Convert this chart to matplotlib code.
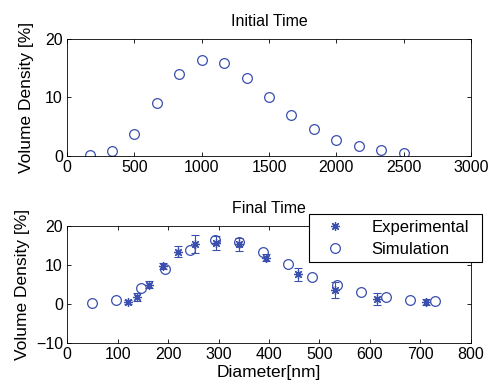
import matplotlib
matplotlib.use('Agg')
from matplotlib import pyplot as plt

plt.rcParams['font.family'] = ['Liberation Sans', 'DejaVu Sans']

BLUE = '#3a4fae'

# Initial time (simulation only)
init_d = [167, 333, 500, 667, 833, 1000, 1167, 1333, 1500, 1667, 1833, 2000, 2167, 2333, 2500]
init_v = [0.23, 0.86, 3.7, 9.05, 14.0, 16.4, 15.8, 13.25, 10.1, 7.05, 4.6, 2.8, 1.7, 1.05, 0.57]

# Final time
sim_d = [49, 97, 146, 194, 243, 292, 340, 389, 437, 486, 535, 583, 632, 680, 729]
sim_v = [0.34, 1.0, 4.1, 8.95, 13.9, 16.3, 15.9, 13.3, 10.3, 7.0, 4.75, 2.98, 1.7, 0.94, 0.68]

exp_d = [120, 139, 163, 189, 219, 254, 294, 340, 395, 457, 530, 614, 711]
exp_v = [0.5, 1.9, 5.0, 9.7, 13.4, 15.3, 15.7, 15.3, 11.9, 7.6, 3.6, 1.36, 0.43]
exp_err = [0.5, 1.0, 0.8, 0.7, 1.4, 2.3, 1.8, 1.6, 1.0, 1.6, 2.0, 1.5, 0.8]

fig = plt.figure(figsize=(4.9, 3.85), dpi=100)
ax1 = fig.add_axes([0.137, 0.595, 0.824, 0.304])
ax2 = fig.add_axes([0.137, 0.109, 0.824, 0.304])

def style(ax):
    ax.tick_params(direction='in', top=True, right=True, labelsize=11.5, length=3, width=0.6, pad=3)
    for s in ax.spines.values():
        s.set_linewidth(0.6)

# Top panel
ax1.plot(init_d, init_v, 'o', mfc='none', mec=BLUE, ms=7, mew=0.9)
ax1.set_xlim(0, 3000)
ax1.set_ylim(0, 20)
ax1.set_yticks([0, 10, 20])
ax1.set_title('Initial Time', fontsize=11.5, pad=9)
ax1.set_ylabel('Volume Density [%]', fontsize=12.5, labelpad=8)
style(ax1)

# Bottom panel
ax2.errorbar(exp_d, exp_v, yerr=exp_err, fmt='none', ecolor=BLUE, elinewidth=0.8, capsize=3, capthick=0.8)
ax2.plot(exp_d, exp_v, linestyle='none', marker=(8, 2, 0), color=BLUE, ms=6.5, mew=0.9, label='Experimental')
ax2.plot(sim_d, sim_v, 'o', mfc='none', mec=BLUE, ms=7, mew=0.9, label='Simulation')
ax2.set_xlim(0, 800)
ax2.set_ylim(-10, 20)
ax2.set_yticks([-10, 0, 10, 20])
ax2.set_title('Final Time', fontsize=11.5, pad=9)
ax2.set_ylabel('Volume Density [%]', fontsize=12.5, labelpad=4)
ax2.set_xlabel('Diameter[nm]', fontsize=12.5, labelpad=2)
style(ax2)

leg = ax2.legend(loc='upper left', bbox_to_anchor=(0.631, 0.301, 0.353, 0.143),
                 bbox_transform=fig.transFigure, mode='expand', fancybox=False,
                 framealpha=1, edgecolor='black', fontsize=12, handletextpad=1.0,
                 handlelength=2.4, borderaxespad=0, labelspacing=0.4, borderpad=0.35)
leg.get_frame().set_linewidth(0.8)

fig.savefig('out.png', dpi=100)
